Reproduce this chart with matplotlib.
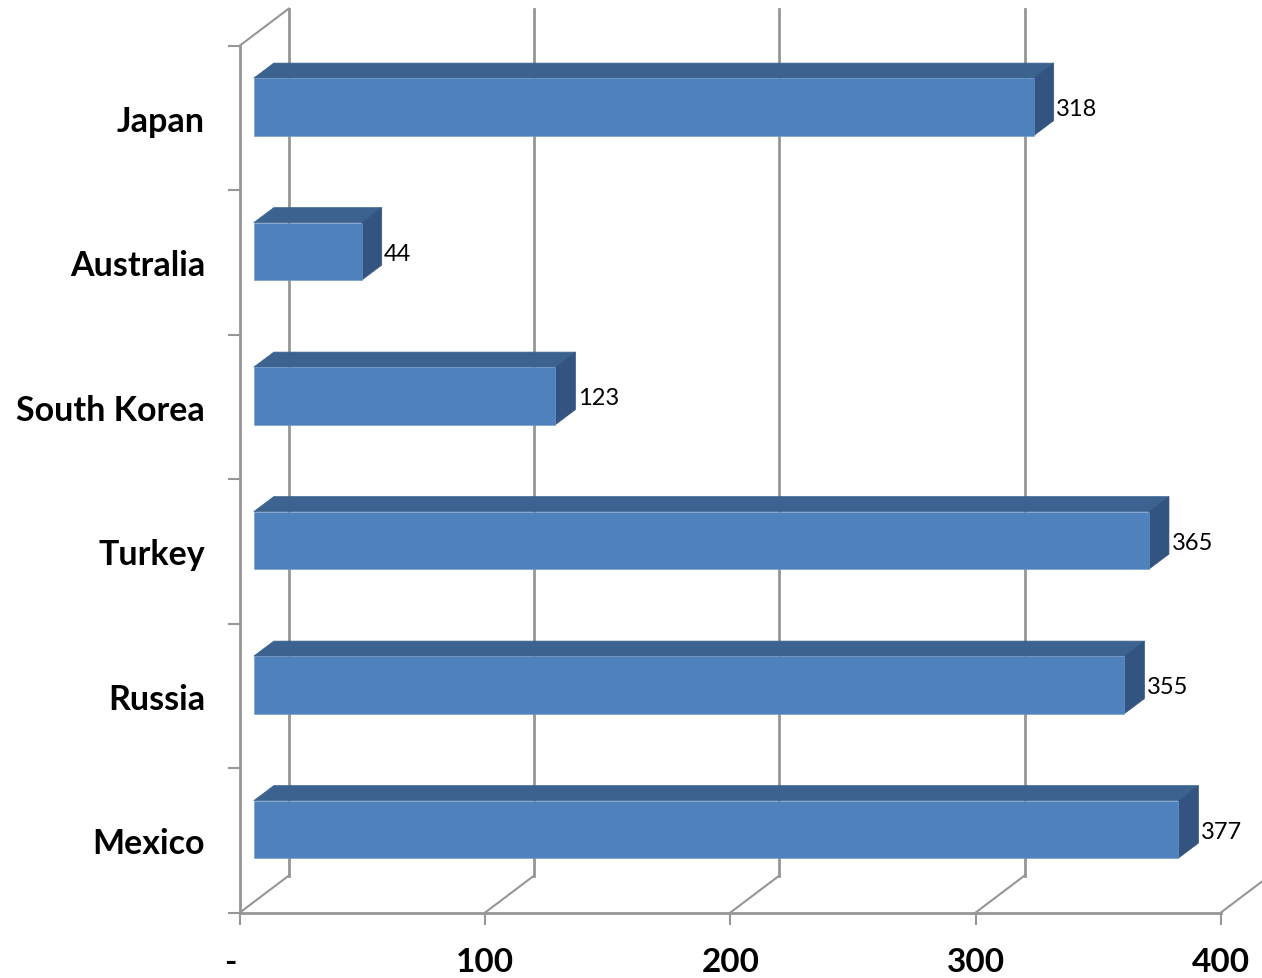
import matplotlib
matplotlib.use("Agg")
import matplotlib.pyplot as plt
from matplotlib.patches import Polygon
from matplotlib.transforms import ScaledTranslation

# Data (bottom to top)
countries = ["Mexico", "Russia", "Turkey", "South Korea", "Australia", "Japan"]
values = [377, 355, 365, 123, 44, 318]
x_ticks = [0, 100, 200, 300, 400]
x_tick_labels = ["-", "100", "200", "300", "400"]

W, H = 1262, 979
plt.rcParams["font.family"] = ["Lato", "DejaVu Sans"]
fig = plt.figure(figsize=(W / 100, H / 100), dpi=100, facecolor="white")
ax = fig.add_axes([239.8 / W, (H - 913.6) / H, 981 / W, 867 / H])
ax.set_xlim(0, 400)
ax.set_ylim(0, 6)

PX = 400 / 981
PY = 6 / 867
GRID = "#969696"
LW = 1.5
FRONT, TOP, SIDE = "#4F81BD", "#3C6390", "#335480"
wall_dx, wall_dy = 49 * PX, 37 * PY
shift_x, shift_y = 14 * PX, 11 * PY
depth_x, depth_y = 20 * PX, 15 * PY
bar_h = 57.5 * PY

# Walls and gridlines
for t in x_ticks:
    ax.plot([t, t + wall_dx], [0, wall_dy], color=GRID, lw=LW, clip_on=False, zorder=1)
    if t < 400:
        ax.plot([t + wall_dx] * 2, [wall_dy, 6 + wall_dy], color=GRID, lw=2, clip_on=False, zorder=1)
ax.plot([0, wall_dx], [6, 6 + wall_dy], color=GRID, lw=LW, clip_on=False, zorder=1)

# Bars
centers = [i + 0.5 + shift_y for i in range(len(values))]
ax.barh(centers, values, height=bar_h, left=shift_x, color=FRONT,
        edgecolor="#6F97C8", linewidth=0.4, zorder=4)
for c, v in zip(centers, values):
    x0, x1 = shift_x, shift_x + v
    y0, y1 = c - bar_h / 2, c + bar_h / 2
    ax.add_patch(Polygon([(x0, y1), (x1, y1), (x1 + depth_x, y1 + depth_y), (x0 + depth_x, y1 + depth_y)],
                         closed=True, fc=TOP, ec=TOP, lw=0.5, zorder=3, clip_on=False))
    ax.add_patch(Polygon([(x1, y0), (x1 + depth_x, y0 + depth_y), (x1 + depth_x, y1 + depth_y), (x1, y1)],
                         closed=True, fc=SIDE, ec=SIDE, lw=0.5, zorder=3, clip_on=False))
    ax.text(x1 + 22.5 * PX, c - 2 * PY, str(v), ha="left", va="center", fontsize=17,
            color="black", zorder=5, clip_on=False)

# Axes
for s in ("top", "right"):
    ax.spines[s].set_visible(False)
for s in ("left", "bottom"):
    ax.spines[s].set_color(GRID)
    ax.spines[s].set_linewidth(2)
    ax.spines[s].set_zorder(2)

ax.set_xticks(x_ticks)
ax.set_xticklabels(x_tick_labels, fontsize=24, fontweight="bold", color="black")
ax.tick_params(axis="x", length=8.6, width=1.5, color=GRID, pad=16)
dash = ax.get_xticklabels()[0]
dash.set_transform(dash.get_transform() + ScaledTranslation(-9 / 100, 0, fig.dpi_scale_trans))

ax.set_yticks(range(7))
ax.set_yticklabels([])
ax.set_yticks([i + 0.5 for i in range(6)], minor=True)
ax.set_yticklabels(countries, minor=True, fontsize=24.5, fontweight="bold", color="black")
ax.tick_params(axis="y", which="major", length=8.6, width=1.5, color=GRID)
ax.tick_params(axis="y", which="minor", length=0, pad=25)

fig.savefig("out.png", dpi=100)
